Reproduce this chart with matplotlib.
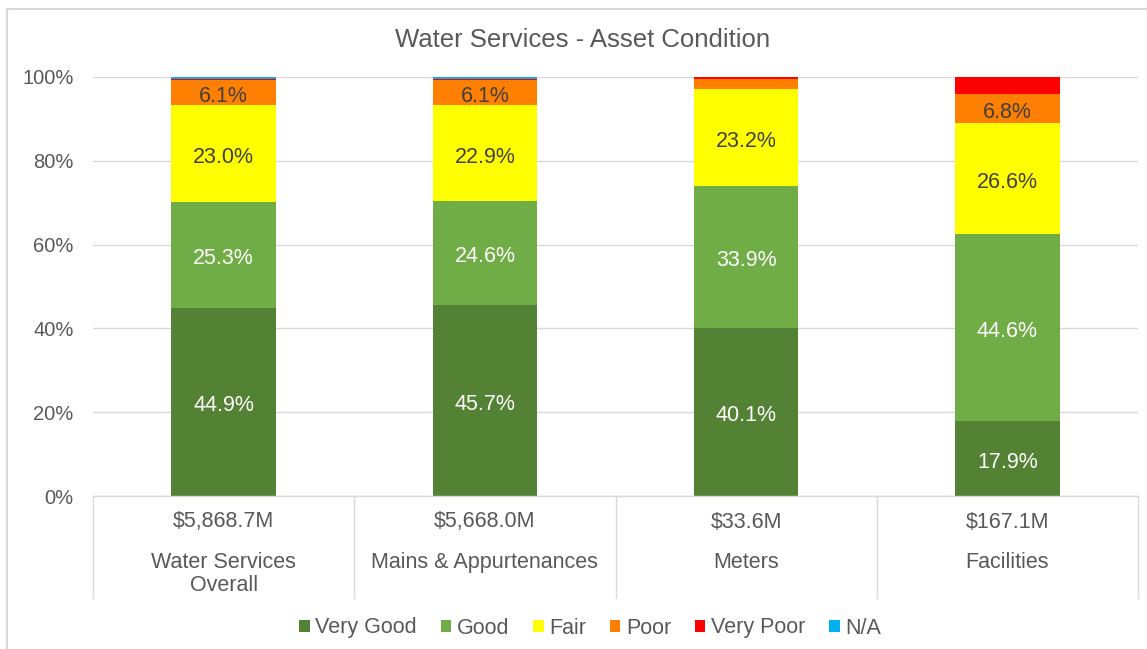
import numpy as np
import matplotlib
matplotlib.use("Agg")
import matplotlib.pyplot as plt
from matplotlib.lines import Line2D

plt.rcParams['font.family'] = ['Liberation Sans', 'DejaVu Sans']

# data
amounts = ["$5,868.7M", "$5,668.0M", "$33.6M", "$167.1M"]
names = ["Water Services\nOverall", "Mains & Appurtenances", "Meters", "Facilities"]
conditions = ["Very Good", "Good", "Fair", "Poor", "Very Poor", "N/A"]
very_good = [44.9, 45.7, 40.1, 17.9]
good = [25.3, 24.6, 33.9, 44.6]
fair = [23.0, 22.9, 23.2, 26.6]
poor = [6.1, 6.1, 2.3, 6.8]
very_poor = [0.3, 0.3, 0.5, 4.1]
na = [0.4, 0.4, 0.0, 0.0]

series = [very_good, good, fair, poor, very_poor, na]
colors = ["#548235", "#70AD47", "#FFFF00", "#FF7F00", "#FF0000", "#00B0F0"]
label_colors = ["white", "white", "#404040", "#404040", None, None]
txt = "#595959"
fs = 15.5

fig = plt.figure(figsize=(11.47, 6.49), dpi=100)
ax = fig.add_axes([93 / 1147, 1 - 496 / 649, (1138 - 93) / 1147, 419 / 649])

x = np.arange(len(amounts))
bottom = np.zeros(len(amounts))
for vals, col, lc, name in zip(series, colors, label_colors, conditions):
    vals = np.array(vals)
    ax.bar(x, vals, 0.4, bottom=bottom, color=col, label=name, zorder=2)
    if lc is not None:
        for xi, v, b in zip(x, vals, bottom):
            if v >= 5:
                # Excel sits the label slightly below the segment centre
                ax.text(xi, b + v / 2 - 0.9, f"{v:.1f}%", ha="center", va="center",
                        fontsize=fs, color=lc, zorder=3)
    bottom += vals

ax.set_xlim(-0.5, len(amounts) - 0.5)
ax.set_ylim(0, 100)
ax.set_yticks(np.arange(0, 101, 20))
ax.set_yticklabels([f"{t}%" for t in range(0, 101, 20)])
ax.tick_params(axis="y", length=0, pad=14, labelsize=14.5, labelcolor=txt)
ax.set_xticks([])
ax.yaxis.grid(True, color="#d9d9d9", linewidth=1)
ax.set_axisbelow(True)
for s in ax.spines.values():
    s.set_visible(False)

# category labels and separators
tr = ax.get_xaxis_transform()
for xi, amt, nm in zip(x, amounts, names):
    ax.text(xi, -26 / 419, amt, transform=tr, ha="center", va="center",
            fontsize=fs, color=txt)
    ax.text(xi, -56 / 419, nm, transform=tr, ha="center", va="top",
            fontsize=fs, color=txt, linespacing=1.1)
for sx in np.arange(-0.5, len(amounts), 1.0):
    ax.plot([sx, sx], [0, -102 / 419], transform=tr, color="#d9d9d9",
            linewidth=1, clip_on=False)
ax.plot([-0.5, len(amounts) - 0.5], [0, 0], transform=tr, color="#d9d9d9",
        linewidth=1, clip_on=False)

fig.text(583 / 1147, 1 - 40 / 649, "Water Services - Asset Condition",
         ha="center", va="center", fontsize=18.5, color=txt)

ax.legend(loc="center", bbox_to_anchor=(590 / 1147, 1 - 628 / 649),
          bbox_transform=fig.transFigure, ncol=6, frameon=False,
          fontsize=fs, labelcolor=txt, handlelength=0.5, handleheight=0.5,
          handletextpad=0.25, columnspacing=1.1)

# chart frame (left and top edges visible)
fig.add_artist(Line2D([7 / 1147, 7 / 1147], [0, 1 - 9 / 649],
                      transform=fig.transFigure, color="#d9d9d9", linewidth=1.5))
fig.add_artist(Line2D([7 / 1147, 1], [1 - 9 / 649, 1 - 9 / 649],
                      transform=fig.transFigure, color="#d9d9d9", linewidth=1.5))

fig.savefig("out.png", dpi=100)
